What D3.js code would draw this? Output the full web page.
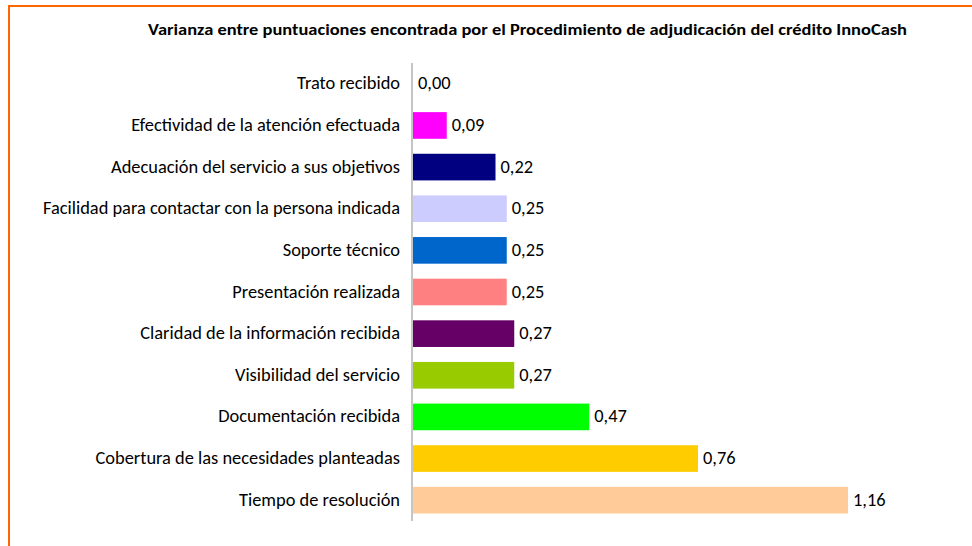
<!DOCTYPE html>
<html>
<head>
<meta charset="utf-8">
<script src="https://cdn.jsdelivr.net/npm/d3@7"></script>
<style>
  body { margin: 0; background: #fff; }
  svg { display: block; }
</style>
</head>
<body>
<div id="chart"></div>
<script>
const categories = [
  "Trato recibido",
  "Efectividad de la atención efectuada",
  "Adecuación del servicio a sus objetivos",
  "Facilidad para contactar con la persona indicada",
  "Soporte técnico",
  "Presentación realizada",
  "Claridad de la información recibida",
  "Visibilidad del servicio",
  "Documentación recibida",
  "Cobertura de las necesidades planteadas",
  "Tiempo de resolución"
];
const values = [0.00, 0.09, 0.22, 0.25, 0.25, 0.25, 0.27, 0.27, 0.47, 0.76, 1.16];
const colors = ["#FFCC99", "#FF00FF", "#000080", "#CCCCFF", "#0066CC", "#FF8080",
                "#660066", "#99CC00", "#00FF00", "#FFCC00", "#FFCC99"];
const title = "Varianza entre puntuaciones encontrada por el Procedimiento de adjudicación del crédito InnoCash";

const width = 972, height = 546;
const margin = { top: 63, left: 412, bottom: 25 };
const fontFam = "Carlito, 'Liberation Sans', Arial, sans-serif";

const svg = d3.select("#chart").append("svg")
  .attr("width", width)
  .attr("height", height);

// orange frame (right & bottom cut off)
svg.append("rect")
  .attr("x", 9).attr("y", 6)
  .attr("width", width + 10).attr("height", height + 10)
  .attr("fill", "none")
  .attr("stroke", "#FF6600")
  .attr("stroke-width", 2);

svg.append("text")
  .attr("x", 148).attr("y", 35)
  .attr("textLength", 759)
  .attr("lengthAdjust", "spacingAndGlyphs")
  .style("font-family", fontFam)
  .style("font-weight", "bold")
  .style("font-size", "15px")
  .text(title);

const x = d3.scaleLinear().domain([0, 1]).range([413, 788]);
const y = d3.scaleBand().domain(categories).range([63, 521]).paddingInner(0.36).paddingOuter(0.18);

svg.selectAll("rect.bar")
  .data(values)
  .enter().append("rect")
  .attr("class", "bar")
  .attr("x", x(0))
  .attr("y", (d, i) => y(categories[i]))
  .attr("width", d => x(d) - x(0))
  .attr("height", y.bandwidth())
  .attr("fill", (d, i) => colors[i]);

// category axis
const yAxis = svg.append("g")
  .attr("transform", `translate(${margin.left},0)`)
  .call(d3.axisLeft(y).tickSize(0).tickPadding(12));
yAxis.select(".domain").attr("stroke", "#A6A6A6").attr("stroke-width", 1.3)
  .attr("d", "M0,63V521");
yAxis.selectAll("text")
  .attr("dy", "0.3em")
  .style("font-family", fontFam)
  .style("font-size", "18.4px")
  .attr("fill", "#000");

svg.selectAll("text.val")
  .data(values)
  .enter().append("text")
  .attr("class", "val")
  .attr("x", d => x(d) + 5)
  .attr("y", (d, i) => y(categories[i]) + y.bandwidth() / 2)
  .attr("dy", "0.3em")
  .style("font-family", fontFam)
  .style("font-size", "18.4px")
  .text(d => d3.format(".2f")(d).replace(".", ","));
</script>
</body>
</html>
